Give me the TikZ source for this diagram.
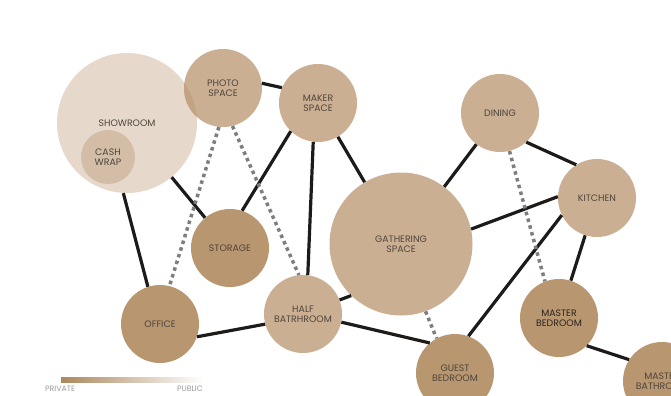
\documentclass[tikz,border=0pt]{standalone}
\usepackage{fontspec}
\setmainfont{Poppins}
\usepackage{tikz}

\definecolor{showroomfill}{HTML}{E6D9CB}
\definecolor{cashfill}{HTML}{D3BDA6}
\definecolor{lightroom}{HTML}{CBAF93}
\definecolor{darkroom}{HTML}{B8966F}
\definecolor{overlapfill}{HTML}{C2A384}
\definecolor{labeltext}{HTML}{4E453C}
\definecolor{labeldark}{HTML}{2A241F}
\definecolor{linkblack}{HTML}{1C1B1A}
\definecolor{dotgray}{HTML}{7E7E7E}
\definecolor{legendbrown}{HTML}{AD875D}
\definecolor{legendtext}{HTML}{9A9A9A}

\begin{document}
\begin{tikzpicture}[x=1bp,y=-1bp,
    room/.style={circle,minimum size=78bp,inner sep=0pt,align=center,
      font=\fontsize{9.4}{10.5}\selectfont,text=labeltext},
    light/.style={room,fill=lightroom},
    dark/.style={room,fill=darkroom},
    link/.style={line width=3.2bp,draw=linkblack},
    maybe/.style={line width=3.5bp,draw=dotgray,dash pattern=on 3.5bp off 3.5bp},
    legend/.style={font=\fontsize{7.8}{8}\selectfont,text=legendtext,inner sep=0pt}]
  \useasboundingbox (0,0) rectangle (671,395);

  % Rooms
  \node[room,fill=showroomfill,minimum size=140bp] (SR) at (127,123) {SHOWROOM};
  \node[room,fill=cashfill,minimum size=54bp] (CW) at (108,157) {CASH\\WRAP};
  \node[light] (PH) at (223,88) {PHOTO\\SPACE};
  \begin{scope}
    \clip (SR.center) circle (70bp);
    \fill[overlapfill] (PH.center) circle (39bp);
  \end{scope}
  \node[light] (MK) at (318,103) {MAKER\\SPACE};
  \node[dark] (ST) at (230,248) {STORAGE};
  \node[dark] (OF) at (160,324) {OFFICE};
  \node[light] (HB) at (303,314) {HALF\\BATRHROOM};
  \node[light,minimum size=143bp] (GS) at (401,244) {GATHERING\\SPACE};
  \node[light] (DN) at (500,113) {DINING};
  \node[light] (KT) at (597,198) {KITCHEN};
  \node[dark,text=labeldark] (MB) at (559,318) {MASTER\\BEDROOM};
  \node[dark] (GB) at (455,373) {GUEST\\BEDROOM};
  \node[dark] (MT) at (662,381) {MASTER\\BATHROOM};

  % Links
  \draw[link] (SR.-93) -- (OF.108);
  \draw[link] (SR) -- (ST);
  \draw[link] (PH.7) -- (MK.157);
  \draw[link] (MK.-134) -- (ST.72);
  \draw[link] (MK.-97) -- (HB.83);
  \draw[link] (MK) -- (GS);
  \draw[link] (OF.-19) -- (HB.195);
  \draw[link] (HB.21) -- (GS.226);
  \draw[link] (HB.-12) -- (GB.130);
  \draw[link] (GS) -- (DN);
  \draw[link] (GS.12) -- (KT.178);
  \draw[link] (DN.-48) -- (KT.122);
  \draw[link] (KT.206) -- (GB.70);
  \draw[link] (KT) -- (MB);
  \draw[link] (MB.-45) -- (MT.147);

  % Weak links
  \draw[maybe] (PH.-96) -- (OF.76);
  \draw[maybe] (PH.-76) -- (HB.96);
  \draw[maybe] (DN.-76) -- (MB.111);
  \draw[maybe] (GS.-70) -- (GB.118);

  % Legend
  \shade[left color=legendbrown,right color=white] (61,377) rectangle (203,382);
  \node[legend,anchor=base west] (priv) at (45,391) {PRIVATE};
  \node[legend,anchor=base east] (pub) at (203,391) {PUBLIC};
\end{tikzpicture}
\end{document}
